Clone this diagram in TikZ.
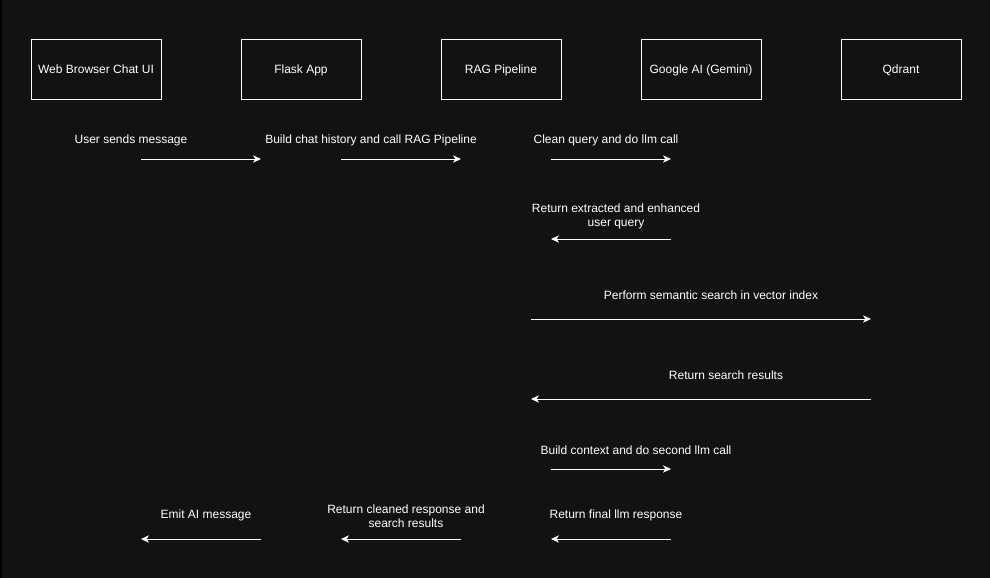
\documentclass[tikz,border=0pt]{standalone}
\usepackage{fontspec}
\setmainfont{Liberation Sans}
\usetikzlibrary{arrows.meta}
\definecolor{bgc}{HTML}{121212}
\begin{document}
\begin{tikzpicture}[x=0.75pt,y=-0.75pt,
  box/.style={draw=white,line width=0.75pt,minimum width=90pt,minimum height=45pt,inner sep=0pt,text=white,text height=7pt,text depth=1pt,font=\fontsize{9}{10.5}\selectfont},
  lbl/.style={text=white,inner sep=0pt,align=center,font=\fontsize{9}{10.5}\selectfont},
  arr/.style={draw=white,line width=0.75pt,-{Stealth[length=6pt,width=5.5pt,inset=1.8pt]}}]
\fill[bgc] (0,0) rectangle (990,578);
\useasboundingbox (0,0) rectangle (990,578);
\draw[black,line width=1pt] (1,0) -- (1,578);
% participants
\node[box,minimum width=97.5pt] (web) at (96,69) {Web Browser Chat UI};
\node[box] (flask) at (301,69) {Flask App};
\node[box] (rag) at (501,69) {RAG Pipeline};
\node[box] (gem) at (701,69) {Google AI (Gemini)};
\node[box] (qd) at (901,69) {Qdrant};
% labels
\node[lbl] (l1) at (131,140) {User sends message};
\node[lbl] (l2) at (371,140) {Build chat history and call RAG Pipeline};
\node[lbl] (l3) at (606,140) {Clean query and do llm call};
\node[lbl] (l4) at (616,216.5) {Return extracted and enhanced\\user query};
\node[lbl] (l5) at (711,295.5) {Perform semantic search in vector index};
\node[lbl] (l6) at (726,375.5) {Return search results};
\node[lbl] (l7) at (636,450.5) {Build context and do second llm call};
\node[lbl] (l8) at (616,515.5) {Return final llm response};
\node[lbl] (l9) at (406,516.5) {Return cleaned response and\\search results};
\node[lbl] (l10) at (206,515.5) {Emit AI message};
% arrow endpoints
\coordinate (a1s) at (141,159); \coordinate (a1e) at (261,159);
\coordinate (a2s) at (341,159); \coordinate (a2e) at (461,159);
\coordinate (a3s) at (551,159); \coordinate (a3e) at (671,159);
\coordinate (a4s) at (671,239); \coordinate (a4e) at (551,239);
\coordinate (a5s) at (531,319); \coordinate (a5e) at (871,319);
\coordinate (a6s) at (871,399); \coordinate (a6e) at (531,399);
\coordinate (a7s) at (551,469); \coordinate (a7e) at (671,469);
\coordinate (a8s) at (671,539); \coordinate (a8e) at (551,539);
\coordinate (a9s) at (461,539); \coordinate (a9e) at (341,539);
\coordinate (a10s) at (261,539); \coordinate (a10e) at (141,539);
\foreach \i in {1,...,10} {\draw[arr] (a\i s) -- (a\i e);}
\end{tikzpicture}
\end{document}
